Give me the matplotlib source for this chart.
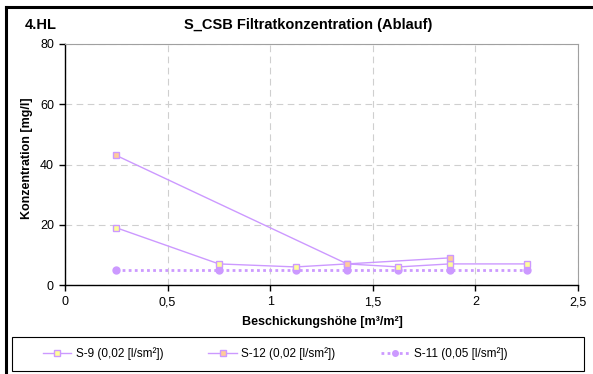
""" S_CSB Filtratkonzentration (Ablauf) line chart """
import matplotlib
matplotlib.use('Agg')
import matplotlib.pyplot as plt
from matplotlib.lines import Line2D
from matplotlib.patches import Rectangle

plt.rcParams['font.family'] = ['Liberation Sans', 'DejaVu Sans']

# data
x_s9 = [0.25, 0.75, 1.125, 1.375, 1.625, 1.875, 2.25]
y_s9 = [19, 7, 6, 7, 6, 7, 7]
x_s12 = [0.25, 1.375, 1.875]
y_s12 = [43, 7, 9]
x_s11 = [0.25, 0.75, 1.125, 1.375, 1.625, 1.875, 2.25]
y_s11 = [5, 5, 5, 5, 5, 5, 5]

labels = ['S-9 (0,02 [l/sm²])', 'S-12 (0,02 [l/sm²])', 'S-11 (0,05 [l/sm²])']
x_ticks = [0, 0.5, 1, 1.5, 2, 2.5]
x_ticklabels = ['0', '0,5', '1', '1,5', '2', '2,5']
y_ticks = [0, 20, 40, 60, 80]

LINE = '#CC99FF'
W, H = 593, 374

fig = plt.figure(figsize=(W / 100, H / 100), dpi=100)
ax = fig.add_axes([65 / W, 1 - 285 / H, 513 / W, 241 / H])

ax.plot(x_s9, y_s9, color=LINE, lw=1, marker='s', ms=5,
        mfc='#FFFF99', mec=LINE, mew=1, label=labels[0], zorder=3)
ax.plot(x_s12, y_s12, color=LINE, lw=1, marker='s', ms=5,
        mfc='#FFCC99', mec=LINE, mew=1, label=labels[1], zorder=3)
ax.plot(x_s11, y_s11, color=LINE, lw=2, ls=(0, (1, 1.2)), marker='o', ms=5,
        mfc=LINE, mec=LINE, label=labels[2], zorder=2)

ax.set_xlim(0, 2.5)
ax.set_ylim(0, 80)
ax.set_xticks(x_ticks)
ax.set_xticklabels(x_ticklabels)
ax.set_yticks(y_ticks)
ax.tick_params(labelsize=9, length=4, width=1, color='black', pad=4)
ax.grid(True, color='#CFCFCF', ls=(0, (6, 4)), lw=0.8)
ax.set_axisbelow(True)

for side in ('top', 'right'):
    ax.spines[side].set_color('#A0A0A0')
    ax.spines[side].set_linewidth(0.8)
for side in ('left', 'bottom'):
    ax.spines[side].set_color('black')
    ax.spines[side].set_linewidth(1)

# axis titles, title and sheet label
fig.text(322 / W, 1 - 322 / H, 'Beschickungshöhe [m³/m²]', ha='center',
         va='center', fontsize=9, fontweight='bold')
fig.text(27 / W, 1 - 158 / H, 'Konzentration [mg/l]', ha='center',
         va='center', rotation=90, fontsize=9, fontweight='bold')
fig.text(308 / W, 1 - 25 / H, 'S_CSB Filtratkonzentration (Ablauf)',
         ha='center', va='center', fontsize=10.5, fontweight='bold')
fig.text(25 / W, 1 - 25 / H, '4.HL', ha='left', va='center',
         fontsize=10.5, fontweight='bold')

# legend with a separate full-width frame
fig.add_artist(Rectangle((12 / W, 1 - 371 / H), 572 / W, 34 / H,
                         transform=fig.transFigure, fill=False,
                         edgecolor='black', lw=0.8))
leg = fig.legend(loc='center', bbox_to_anchor=(275 / W, 1 - 354 / H),
                 ncol=3, fontsize=8.5, frameon=False,
                 handlelength=2.4, handletextpad=0.4, columnspacing=3.8,
                 markerscale=0.8, borderaxespad=0)

# outer frame (only top and left visible in the reference)
fig.add_artist(Line2D([6 / W, 6 / W], [0, 1 - 7 / H], color='black',
                      lw=2.2, transform=fig.transFigure))
fig.add_artist(Line2D([6 / W, 1], [1 - 7 / H, 1 - 7 / H], color='black',
                      lw=2.2, transform=fig.transFigure))

fig.savefig('out.png', dpi=100)
